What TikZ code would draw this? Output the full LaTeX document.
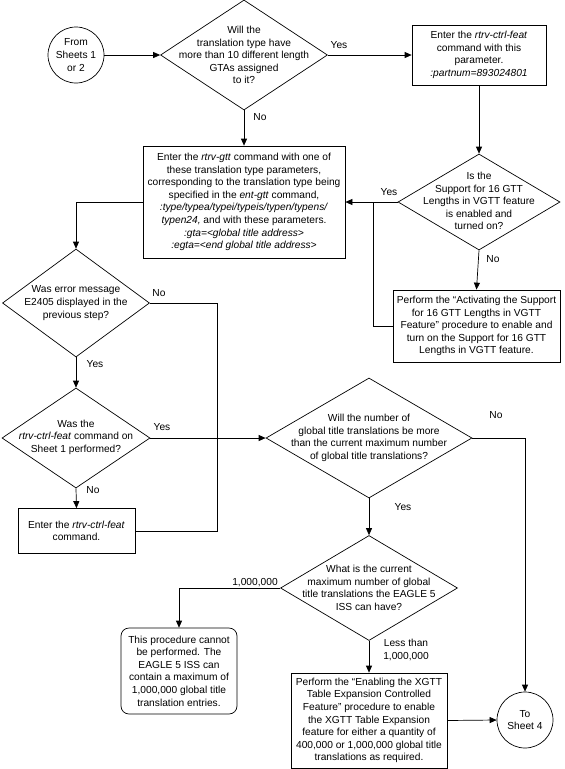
\documentclass[tikz,border=0pt]{standalone}
\usepackage{fontspec}
\setmainfont{Liberation Sans}
\usetikzlibrary{shapes.geometric,arrows.meta}
\begin{document}
\begin{tikzpicture}[x=1pt,y=-1pt,
  every node/.style={font=\fontsize{10.2}{12.6}\selectfont},
  box/.style={draw, line width=0.7pt, inner sep=0pt, align=center},
  dia/.style={draw, diamond, inner sep=0pt, line width=0.7pt},
  term/.style={draw, circle, inner sep=0pt, minimum size=56pt, align=center, line width=0.7pt},
  txt/.style={align=center, inner sep=0pt},
  lbl/.style={inner sep=0pt},
  flow/.style={line width=0.7pt, -{Triangle[length=7pt,width=6pt]}},
  link/.style={line width=0.7pt}]
\useasboundingbox (0,0) rectangle (565,769);

% terminals
\node[term] (c1) at (76,55) {From\\Sheets 1\\or 2};
\node[term] (c2) at (525,720) {To\\Sheet 4};

% diamonds
\node[dia, minimum width=167pt, minimum height=110pt] (d1) at (244,55) {};
\node[txt] (d1t) at (244,55) {Will the\\translation type have\\more than 10 different length\\GTAs assigned\\to it?};

\node[dia, minimum width=162pt, minimum height=96pt] (d2) at (479,202) {};
\node[txt] (d2t) at (479,201) {Is the\\Support for 16 GTT\\Lengths in VGTT feature\\is enabled and\\turned on?};

\node[dia, minimum width=147pt, minimum height=108pt] (d3) at (76,303) {};
\node[txt] (d3t) at (76,303) {Was error message\\E2405 displayed in the\\previous step?};

\node[dia, minimum width=148pt, minimum height=100pt] (d4) at (76,438) {};
\node[txt] (d4t) at (76,437) {Was the\\\textit{rtrv-ctrl-feat} command on\\Sheet 1 performed?};

\node[dia, minimum width=206pt, minimum height=120pt] (d5) at (369,438) {};
\node[txt] (d5t) at (369,438) {Will the number of\\global title translations be more\\than the current maximum number\\of global title translations?};

\node[dia, minimum width=177pt, minimum height=105pt] (d6) at (369,588) {};
\node[txt] (d6t) at (369,588) {What is the current\\maximum number of global\\title translations the EAGLE 5\\ISS can have?};

% boxes
\node[box, minimum width=134pt, minimum height=60pt] (b1) at (479,55)
  {Enter the \textit{rtrv-ctrl-feat}\\command with this\\parameter.\\\textit{:partnum=893024801}};

\node[box, minimum width=202pt, minimum height=112pt] (b2) at (244,202)
  {Enter the \textit{rtrv-gtt} command with one of\\these translation type parameters,\\corresponding to the translation type being\\specified in the \textit{ent-gtt} command,\\\textit{:type/typea/typei/typeis/typen/typens/}\\\textit{typen24,} and with these parameters.\\\textit{:gta=<global title address>}\\\textit{:egta=<end global title address>}};

\node[box, minimum width=167pt, minimum height=72pt] (b3) at (476.5,326)
  {Perform the “Activating the Support\\for 16 GTT Lengths in VGTT\\Feature” procedure to enable and\\turn on the Support for 16 GTT\\Lengths in VGTT feature.};

\node[box, minimum width=117pt, minimum height=45pt] (b4) at (76.5,531)
  {Enter the \textit{rtrv-ctrl-feat}\\command.};

\node[box, rounded corners=8pt, minimum width=116pt, minimum height=86pt] (b5) at (179,671)
  {This procedure cannot\\be performed. The\\EAGLE 5 ISS can\\contain a maximum of\\1,000,000 global title\\translation entries.};

\node[box, minimum width=156pt, minimum height=95pt] (b6) at (369,720.5)
  {Perform the “Enabling the XGTT\\Table Expansion Controlled\\Feature” procedure to enable\\the XGTT Table Expansion\\feature for either a quantity of\\400,000 or 1,000,000 global title\\translations as required.};

% junctions
\coordinate (j1) at (373,202);
\coordinate (j2) at (217,438);

% connectors
\draw[flow] (c1.east) -- (d1.west);
\draw[flow] (d1.east) -- (b1.west);
\draw[flow] (d1.south) -- (b2.north);
\draw[flow] (b1.south) -- (d2.north);
\draw[flow] (d2.west) -- (b2.east);
\draw[flow] (d2.south) -- (b3.north);
\draw[link] (b3.west) -| (j1);
\draw[flow] (b2.west) -| (d3.north);
\draw[flow] (d3.south) -- (d4.north);
\draw[flow] (d4.south) -- (b4.north);
\draw[flow] (d4.east) -- (d5.west);
\draw[link] (d3.east) -| (j2);
\draw[link] (b4.east) -| (j2);
\draw[flow] (d5.east) -| (c2.north);
\draw[flow] (d5.south) -- (d6.north);
\draw[flow] (d6.west) -| (b5.north);
\draw[flow] (d6.south) -- (b6.north);
\draw[flow] (b6.east) -- (c2.west);

% labels
\node[lbl] (l1) at (339,45) {Yes};
\node[lbl] (l2) at (260,117) {No};
\node[lbl] (l3) at (389,192) {Yes};
\node[lbl] (l4) at (493,259) {No};
\node[lbl] (l5) at (159,293) {No};
\node[lbl] (l6) at (95,364) {Yes};
\node[lbl] (l7) at (162,427) {Yes};
\node[lbl] (l8) at (93,490) {No};
\node[lbl] (l9) at (496,415) {No};
\node[lbl] (l10) at (403,507) {Yes};
\node[lbl] (l11) at (255,583) {1,000,000};
\node[lbl, align=center] (l12) at (406,650) {Less than\\1,000,000};
\end{tikzpicture}
\end{document}
